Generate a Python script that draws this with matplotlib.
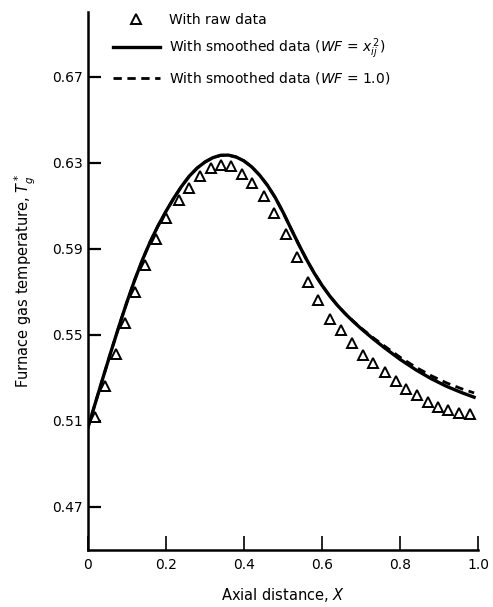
import matplotlib
matplotlib.use("Agg")
import matplotlib.pyplot as plt

# Raw data (triangles)
raw_x = [0.018, 0.044, 0.072, 0.095, 0.121, 0.146, 0.174, 0.200, 0.233, 0.259,
         0.287, 0.315, 0.341, 0.367, 0.396, 0.421, 0.450, 0.477, 0.507, 0.535,
         0.565, 0.591, 0.621, 0.649, 0.676, 0.704, 0.732, 0.762, 0.790, 0.815,
         0.843, 0.871, 0.897, 0.924, 0.952, 0.979]
raw_y = [0.512, 0.526, 0.541, 0.5557, 0.570, 0.5826, 0.5945, 0.6043, 0.6128, 0.6182,
         0.6236, 0.6275, 0.6288, 0.6286, 0.6249, 0.6206, 0.6147, 0.6066, 0.597, 0.586,
         0.5746, 0.5664, 0.5573, 0.552, 0.5461, 0.5404, 0.5368, 0.5325, 0.5287, 0.5247,
         0.5221, 0.519, 0.5166, 0.5151, 0.5136, 0.5133]

# Smoothed curve, WF = x_ij^2 (solid)
smooth_x = [0.00, 0.02, 0.04, 0.06, 0.08, 0.10, 0.12, 0.14, 0.16, 0.18,
            0.20, 0.22, 0.24, 0.26, 0.28, 0.30, 0.32, 0.34, 0.36, 0.38,
            0.40, 0.42, 0.44, 0.46, 0.48, 0.50, 0.52, 0.54, 0.56, 0.58,
            0.60, 0.62, 0.64, 0.66, 0.68, 0.70, 0.73, 0.76, 0.80, 0.84,
            0.88, 0.92, 0.96, 0.99]
smooth_y = [0.507, 0.519, 0.531, 0.5428, 0.5543, 0.5653, 0.5756, 0.5850, 0.5934, 0.6008,
            0.6074, 0.6135, 0.6190, 0.6238, 0.6275, 0.6303, 0.6323, 0.6334, 0.6335, 0.6326,
            0.6308, 0.6280, 0.6242, 0.6195, 0.6138, 0.6070, 0.5995, 0.5921, 0.5851, 0.5787,
            0.5730, 0.5680, 0.5636, 0.5597, 0.5562, 0.5529, 0.5483, 0.5440, 0.5386, 0.5338,
            0.5296, 0.5260, 0.5230, 0.5210]

# Smoothed curve, WF = 1.0 (dashed)
smooth1_y = [0.507, 0.519, 0.531, 0.5428, 0.5543, 0.5653, 0.5756, 0.5850, 0.5934, 0.6008,
             0.6074, 0.6135, 0.6190, 0.6238, 0.6275, 0.6303, 0.6323, 0.6334, 0.6335, 0.6326,
             0.6308, 0.6280, 0.6242, 0.6195, 0.6138, 0.6070, 0.5995, 0.5921, 0.5851, 0.5787,
             0.5730, 0.5680, 0.5636, 0.5598, 0.5564, 0.5532, 0.5488, 0.5448, 0.5396, 0.5350,
             0.5310, 0.5276, 0.5248, 0.5230]

xticks = [0, 0.2, 0.4, 0.6, 0.8, 1.0]
xticklabels = ["0", "0.2", "0.4", "0.6", "0.8", "1.0"]
yticks = [0.47, 0.51, 0.55, 0.59, 0.63, 0.67]
yticklabels = ["0.47", "0.51", "0.55", "0.59", "0.63", "0.67"]

fig = plt.figure(figsize=(4.93, 6.07), dpi=100)
ax = fig.add_axes([88/493, 57/607, 390/493, 538/607])

l_raw, = ax.plot(raw_x, raw_y, linestyle="none", marker="^", markersize=7.5,
                 markerfacecolor="white", markeredgecolor="black", markeredgewidth=1.4,
                 label="With raw data")
l_dash, = ax.plot(smooth_x, smooth1_y, color="black", linestyle=(0, (3, 2)), linewidth=2.0,
                  label="With smoothed data ($WF$ = 1.0)")
l_solid, = ax.plot(smooth_x, smooth_y, color="black", linestyle="-", linewidth=2.4,
                   solid_joinstyle="round",
                   label="With smoothed data ($WF$ = $x_{ij}^{\\,2}$)")

ax.set_xlim(0, 1.0)
ax.set_ylim(0.45, 0.70)
ax.set_xticks(xticks)
ax.set_xticklabels(xticklabels)
ax.set_yticks(yticks)
ax.set_yticklabels(yticklabels)

for s in ["top", "right"]:
    ax.spines[s].set_visible(False)
for s in ["left", "bottom"]:
    ax.spines[s].set_linewidth(1.8)

ax.tick_params(axis="y", direction="in", length=9, width=1.6, labelsize=10, pad=4)
ax.tick_params(axis="x", direction="in", length=10, width=1.2, labelsize=10, pad=6)

ax.set_xlabel("Axial distance, $X$", fontsize=10.5, labelpad=10)
ax.set_ylabel("Furnace gas temperature, $T_g^*$", fontsize=10.5, labelpad=10)

leg = ax.legend(handles=[l_raw, l_solid, l_dash], loc="upper left",
                bbox_to_anchor=(100/493, 1 - 0/607), bbox_transform=fig.transFigure,
                frameon=False, fontsize=10, handlelength=3.4, handletextpad=0.7,
                labelspacing=0.7)

fig.savefig("out.png", dpi=100)
